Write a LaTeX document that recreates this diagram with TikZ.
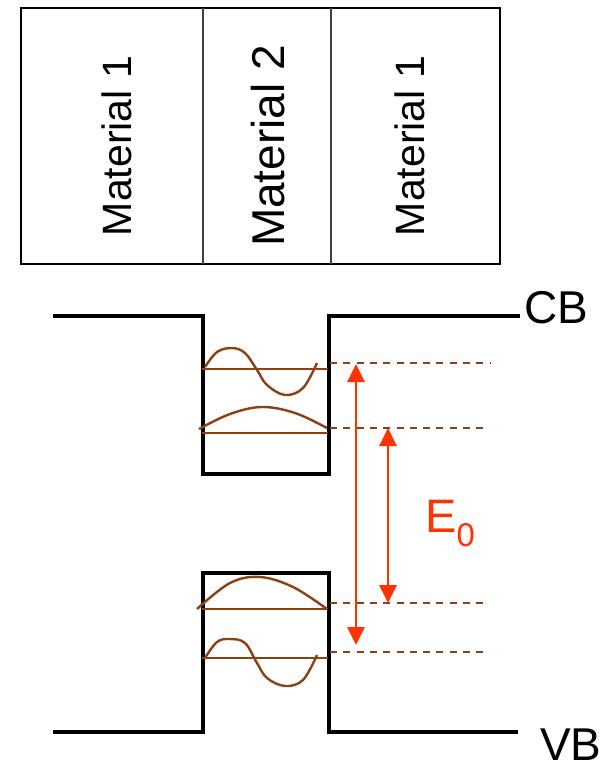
\documentclass[tikz,border=0pt]{standalone}
\usepackage{fontspec}
\setmainfont{Liberation Sans}
\usetikzlibrary{arrows.meta}
\definecolor{wavebrown}{RGB}{140,65,20}
\definecolor{arrred}{RGB}{255,51,0}
\begin{document}
\begin{tikzpicture}[x=1pt,y=-1pt,
  band/.style={line width=4.6pt,line join=miter},
  level/.style={wavebrown,line width=2.3pt},
  wave/.style={wavebrown,line width=2.4pt},
  dlevel/.style={wavebrown,line width=2.4pt,dash pattern=on 7pt off 6.3pt},
  earrow/.style={arrred,line width=2.8pt,{Triangle[length=18pt,width=17pt]}-{Triangle[length=18pt,width=17pt]}},
  mlabel/.style={rotate=90,font=\fontsize{41}{41}\selectfont,inner sep=0pt}
]
\useasboundingbox (0,0) rectangle (613,764);
% material boxes
\draw[line width=2.8pt] (21,8) rectangle (500,264);
\draw[line width=1.8pt,black!75] (203,8) -- (203,264);
\draw[line width=1.8pt,black!75] (331,8) -- (331,264);
\node[mlabel] (m1) at (117,146) {Material 1};
\node[mlabel,font=\fontsize{46}{46}\selectfont] (m2) at (268,146) {Material 2};
\node[mlabel] (m3) at (410,146) {Material 1};
% conduction band
\draw[band] (53,316) -- (203,316) -- (203,474) -- (329,474) -- (329,316) -- (520,316);
\node[anchor=base west,font=\fontsize{46}{46}\selectfont,inner sep=0pt] (cb) at (524,323) {CB};
% valence band
\draw[band] (53,732) -- (203,732) -- (203,573) -- (329,573) -- (329,732) -- (518,732);
\node[anchor=base west,font=\fontsize{46}{46}\selectfont,inner sep=0pt] (vb) at (540,760) {VB};
% levels
\draw[level] (202,369) -- (328,369);
\draw[level] (202,433) -- (328,433);
\draw[level] (202,609) -- (328,609);
\draw[level] (202,658) -- (328,658);
\coordinate (d1) at (330,363);
\coordinate (d2) at (330,428);
\coordinate (d3) at (330,603);
\coordinate (d4) at (330,652);
\draw[dlevel] (d1) -- (490,363);
\draw[dlevel] (d2) -- (485,428);
\draw[dlevel] (d3) -- (485,603);
\draw[dlevel] (d4) -- (485,652);
% waves
\draw[wave] plot[smooth,tension=0.6] coordinates {(205,367) (217,352) (232,348) (245,353) (257,370) (267,385) (285,395) (303,388) (317,363)};
\draw[wave] plot[smooth,tension=0.6] coordinates {(199,429) (230,414) (262,407) (295,413) (327,428)};
\draw[wave] plot[smooth,tension=0.6] coordinates {(197,609) (230,583) (260,577) (293,587) (327,609)};
\draw[wave] plot[smooth,tension=0.6] coordinates {(205,658) (217,642) (230,639) (245,643) (257,663) (267,678) (285,686) (303,680) (317,655)};
% arrows
\coordinate (a1t) at (356,364);
\coordinate (a1b) at (356,645);
\coordinate (a2t) at (388,428);
\coordinate (a2b) at (388,603);
\draw[earrow] (a1t) -- (a1b);
\draw[earrow] (a2t) -- (a2b);
\node[anchor=base west,arrred,font=\fontsize{47}{47}\selectfont,inner sep=0pt] (e0) at (425,532) {E\textsubscript{0}};
\end{tikzpicture}
\end{document}
